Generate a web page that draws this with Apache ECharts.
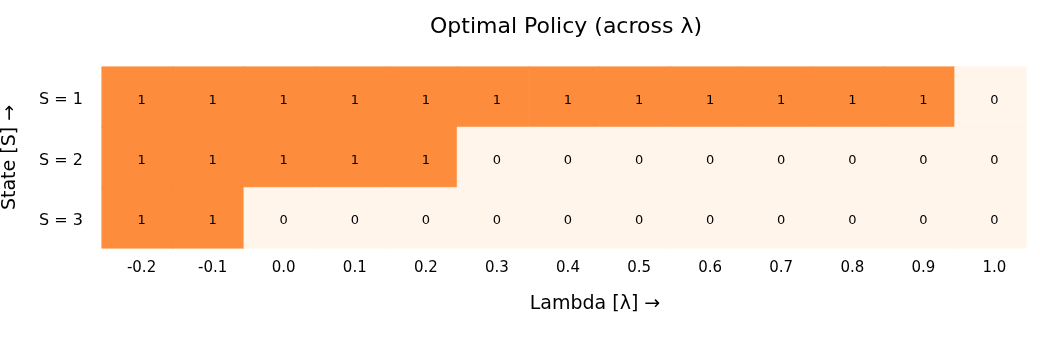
<!DOCTYPE html>
<html><head><meta charset="utf-8">
<script src="https://cdn.jsdelivr.net/npm/echarts@6/dist/echarts.min.js"></script>
<style>html,body{margin:0;padding:0;background:#fff}#c{width:1040px;height:359px}</style>
</head><body><div id="c"></div>
<script>
const lambdas = ['-0.2','-0.1','0.0','0.1','0.2','0.3','0.4','0.5','0.6','0.7','0.8','0.9','1.0'];
const states = ['S = 1','S = 2','S = 3'];
const policyS1 = [1,1,1,1,1,1,1,1,1,1,1,1,0];
const policyS2 = [1,1,1,1,1,0,0,0,0,0,0,0,0];
const policyS3 = [1,1,0,0,0,0,0,0,0,0,0,0,0];
const rows = [policyS1, policyS2, policyS3];
const palette = ['#fff5eb','#fd8d3c'];
const data = [];
rows.forEach((r, si) => r.forEach((v, li) => data.push({
  value:[li, si, v],
  itemStyle:{color:palette[v], borderColor:palette[v], borderWidth:0.6}
})));
const FONT = 'DejaVu Sans';
const chart = echarts.init(document.getElementById('c'), null, {renderer:'canvas'});
chart.setOption({
  animation:false,
  textStyle:{fontFamily:FONT},
  title:{text:'Optimal Policy (across λ)', left:561, top:11, textAlign:'center',
    textStyle:{fontFamily:FONT, fontSize:22, fontWeight:'normal', color:'#000'}},
  grid:{left:102, right:14, top:67, bottom:111, outerBoundsMode:'none'},
  xAxis:{type:'category', data:lambdas, name:'Lambda [λ] →', nameLocation:'middle', nameGap:47,
    nameTextStyle:{fontFamily:FONT, fontSize:19, color:'#000', padding:[0,0,0,62]},
    axisLine:{show:false}, axisTick:{show:false}, splitArea:{show:false},
    axisLabel:{fontFamily:FONT, fontSize:15, color:'#000', margin:13, padding:[0,0,0,8]}},
  yAxis:{type:'category', data:states, inverse:true, name:'State [S] →', nameLocation:'middle', nameGap:82,
    nameTextStyle:{fontFamily:FONT, fontSize:19, color:'#000'},
    axisLine:{show:false}, axisTick:{show:false}, splitArea:{show:false},
    axisLabel:{color:'#000', margin:19, formatter:v=>'{a|'+v+'}',
      rich:{a:{fontFamily:FONT, fontSize:16, color:'#000', padding:[6,0,0,0]}}}},
  series:[{type:'heatmap', data:data,
    label:{show:true, fontFamily:FONT, fontSize:13, color:'#000', offset:[4,3], formatter:p=>String(p.value[2])},
    emphasis:{disabled:true}}]
});
</script></body></html>
